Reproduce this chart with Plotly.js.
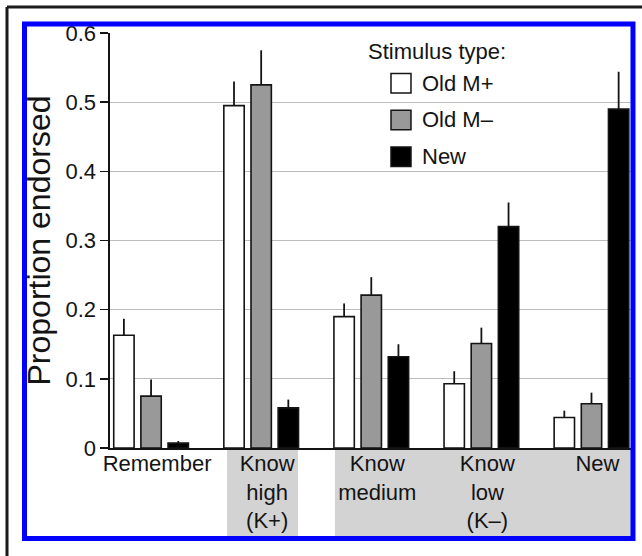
<!DOCTYPE html>
<html>
<head>
<meta charset="utf-8">
<script src="https://cdn.plot.ly/plotly-3.0.1.min.js"></script>
<style>html,body{margin:0;padding:0;background:#fff;}#chart{width:642px;height:556px;}</style>
</head>
<body>
<div id="chart"></div>
<script>
// ---- data ----
var categories = ["Remember", "Know high (K+)", "Know medium", "Know low (K\u2013)", "New"];
var tickLabels = ["Remember", "Know<br>high<br>(K+)", "Know<br>medium", "Know<br>low<br>(K\u2013)", "New"];
var seriesNames = ["Old M+", "Old M\u2013", "New"];
var oldMPlus      = [0.163, 0.495, 0.190, 0.093, 0.044];
var oldMPlusErr   = [0.024, 0.035, 0.019, 0.018, 0.010];
var oldMMinus     = [0.075, 0.525, 0.221, 0.151, 0.064];
var oldMMinusErr  = [0.024, 0.050, 0.026, 0.023, 0.016];
var newStim       = [0.007, 0.058, 0.132, 0.320, 0.490];
var newStimErr    = [0.003, 0.012, 0.018, 0.035, 0.054];
var legendTitle = "Stimulus type:";
var yTitle = "Proportion endorsed";
// shaded label bands (category-index coordinates): K+ and K- groups
var bandKplus  = [0.69, 1.335];
var bandKminus = [1.67, 4.6];

var FONT = "Liberation Sans, Arial, Helvetica, sans-serif";
var INK = "#141414";
var fills = ["#ffffff", "#999999", "#000000"];
var vals = [oldMPlus, oldMMinus, newStim];
var errs = [oldMPlusErr, oldMMinusErr, newStimErr];

function zeros(n){var a=[];for(var i=0;i<n;i++)a.push(0);return a;}

var traces = vals.map(function(v, k){
  return {
    type: "bar", name: seriesNames[k], x: categories, y: v,
    marker: {color: fills[k], line: {color: INK, width: 1.6}},
    error_y: {type: "data", symmetric: false, array: errs[k], arrayminus: zeros(v.length),
              color: INK, thickness: 1.8, width: 0},
    showlegend: false, hoverinfo: "x+y+name"
  };
});

var shapes = [];
// grey bands behind the category labels
[bandKplus, bandKminus].forEach(function(b){
  shapes.push({type: "rect", xref: "x", yref: "paper", x0: b[0], x1: b[1], y0: -0.214, y1: 0,
               fillcolor: "#d3d3d3", line: {width: 0}, layer: "below"});
});
// manual legend swatches
var legY = [0.8788, 0.7904, 0.7019];
var annotations = [{xref: "paper", yref: "paper", x: 0.6264, y: 0.955, xanchor: "center", yanchor: "middle",
                    text: legendTitle, showarrow: false, font: {family: FONT, size: 22, color: INK}}];
legY.forEach(function(yc, k){
  shapes.push({type: "rect", xref: "paper", yref: "paper", x0: 0.5383, x1: 0.5766, y0: yc - 0.0235, y1: yc + 0.0235,
               fillcolor: fills[k], line: {color: INK, width: 1.5}, layer: "above"});
  annotations.push({xref: "paper", yref: "paper", x: 0.5939, y: yc, xanchor: "left", yanchor: "middle",
                    text: seriesNames[k], showarrow: false, font: {family: FONT, size: 22, color: INK}});
});
// blue frame
shapes.push({type: "rect", xref: "paper", yref: "paper", x0: -0.1638, x1: 1.0019, y0: -0.2181, y1: 1.0217,
             fillcolor: "rgba(0,0,0,0)", line: {color: "#0000ff", width: 5}, layer: "above"});
// outer black frame (top and left edges)
shapes.push({type: "line", xref: "paper", yref: "paper", x0: -0.1973, x1: 1.05, y0: 1.0627, y1: 1.0627,
             line: {color: "#1a1a1a", width: 3}, layer: "above"});
shapes.push({type: "line", xref: "paper", yref: "paper", x0: -0.1973, x1: -0.1973, y0: 1.0627, y1: -0.3,
             line: {color: "#1a1a1a", width: 3}, layer: "above"});

var layout = {
  width: 642, height: 556,
  margin: {l: 110, r: 10, t: 33, b: 108, pad: 0},
  paper_bgcolor: "#ffffff", plot_bgcolor: "#ffffff",
  font: {family: FONT, size: 22, color: INK},
  barmode: "group", bargap: 0.26, bargroupgap: 0.25,
  showlegend: false,
  xaxis: {type: "category", range: [-0.373, 4.368], tickmode: "array", tickvals: categories, ticktext: tickLabels,
          showline: true, linecolor: INK, linewidth: 1.6, ticks: "", showgrid: false, zeroline: false,
          tickfont: {family: FONT, size: 22, color: INK}, ticklabelshift: 6, ticklabelstandoff: -5,
          automargin: false, fixedrange: true},
  yaxis: {range: [0, 0.6], tick0: 0, dtick: 0.1, showline: true, linecolor: INK, linewidth: 1.6,
          ticks: "outside", ticklen: 8, tickwidth: 1.6, tickcolor: INK,
          showgrid: true, gridcolor: "#bdbdbd", gridwidth: 1, zeroline: false,
          tickfont: {family: FONT, size: 22, color: INK}, automargin: false, fixedrange: true,
          title: {text: yTitle, font: {family: FONT, size: 32, color: INK}, standoff: 5}},
  shapes: shapes, annotations: annotations
};

Plotly.newPlot("chart", traces, layout, {displayModeBar: false, staticPlot: true});
</script>
</body>
</html>
